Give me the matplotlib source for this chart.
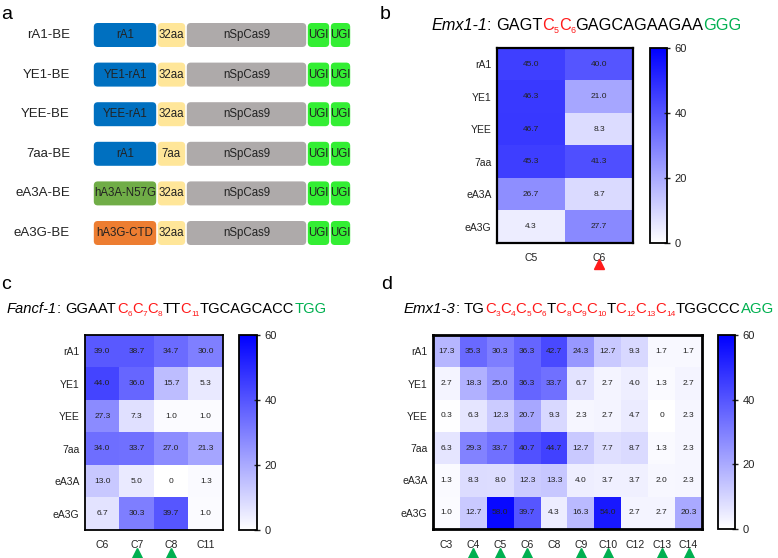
import re
import numpy as np
import matplotlib
matplotlib.use("Agg")
import matplotlib.pyplot as plt
from matplotlib.colors import LinearSegmentedColormap
from matplotlib.patches import FancyBboxPatch
from matplotlib.lines import Line2D
from matplotlib.font_manager import findfont, FontProperties, get_font
from matplotlib.ft2font import LOAD_NO_HINTING

plt.rcParams['font.family'] = ['Liberation Sans', 'DejaVu Sans']

# ---------------- data ----------------
constructs = ["rA1-BE", "YE1-BE", "YEE-BE", "7aa-BE", "eA3A-BE", "eA3G-BE"]
deaminase_labels = ["rA1", "YE1-rA1", "YEE-rA1", "rA1", "hA3A-N57G", "hA3G-CTD"]
deaminase_colors = ["#0070C0", "#0070C0", "#0070C0", "#0070C0", "#70AD47", "#ED7D31"]
linker_labels = ["32aa", "32aa", "32aa", "7aa", "32aa", "32aa"]

editors = ["rA1", "YE1", "YEE", "7aa", "eA3A", "eA3G"]

b_cols = ["C5", "C6"]
b_vals = [[45.0, 40.0], [46.3, 21.0], [46.7, 8.3], [45.3, 41.3], [26.7, 8.7], [4.3, 27.7]]
b_marks = ["C6"]

c_cols = ["C6", "C7", "C8", "C11"]
c_vals = [[39.0, 38.7, 34.7, 30.0],
          [44.0, 36.0, 15.7, 5.3],
          [27.3, 7.3, 1.0, 1.0],
          [34.0, 33.7, 27.0, 21.3],
          [13.0, 5.0, 0.0, 1.3],
          [6.7, 30.3, 39.7, 1.0]]
c_marks = ["C7", "C8"]

d_cols = ["C3", "C4", "C5", "C6", "C8", "C9", "C10", "C12", "C13", "C14"]
d_vals = [[17.3, 35.3, 30.3, 36.3, 42.7, 24.3, 12.7, 9.3, 1.7, 1.7],
          [2.7, 18.3, 25.0, 36.3, 33.7, 6.7, 2.7, 4.0, 1.3, 2.7],
          [0.3, 6.3, 12.3, 20.7, 9.3, 2.3, 2.7, 4.7, 0.0, 2.3],
          [6.3, 29.3, 33.7, 40.7, 44.7, 12.7, 7.7, 8.7, 1.3, 2.3],
          [1.3, 8.3, 8.0, 12.3, 13.3, 4.0, 3.7, 3.7, 2.0, 2.3],
          [1.0, 12.7, 58.0, 39.7, 4.3, 16.3, 54.0, 2.7, 2.7, 20.3]]
d_marks = ["C4", "C5", "C6", "C9", "C10", "C13", "C14"]

b_title = ("Emx1-1", "GAGT[5][6]GAGCAGAAGAA{GGG}")
c_title = ("Fancf-1", "GGAAT[6][7][8]TT[11]TGCAGCACC{TGG}")
d_title = ("Emx1-3", "TG[3][4][5][6]T[8][9][10]T[12][13][14]TGGCCC{AGG}")

# ---------------- layout ----------------
W, H = 778, 558
fig = plt.figure(figsize=(W / 100, H / 100), dpi=100)


def px_axes(x0, y0, x1, y1):
    return fig.add_axes([x0 / W, 1 - y1 / H, (x1 - x0) / W, (y1 - y0) / H])


cmap = LinearSegmentedColormap.from_list("wb", ["#FFFFFF", "#0000FF"])
RED = "#FF1A1A"
GREEN = "#00B050"
TXT = "#222222"

# panel labels
for lab, x, y in [("a", 1, 19), ("b", 380, 19), ("c", 1, 289), ("d", 381, 289)]:
    fig.text(x / W, 1 - y / H, lab, fontsize=14, va="baseline", ha="left")

# ---------------- panel a ----------------
ax_a = px_axes(0, 15, 390, 253)
ax_a.set_xlim(0, 390)
ax_a.set_ylim(253, 15)
ax_a.axis("off")
segs = [(93, 157), (157, 186), (186, 307), (307, 330), (330, 351)]
row_y0, row_dy, box_h = 35, 39.6, 24
for i, name in enumerate(constructs):
    yc = row_y0 + i * row_dy
    ax_a.text(70, yc, name, ha="right", va="center", fontsize=9.5, color=TXT)
    labels = [deaminase_labels[i], linker_labels[i], "nSpCas9", "UGI", "UGI"]
    colors = [deaminase_colors[i], "#FFE699", "#AEAAAA", "#33EE33", "#33EE33"]
    for (x0, x1), lab, col in zip(segs, labels, colors):
        p = FancyBboxPatch((x0 + 0.8, yc - box_h / 2), x1 - x0 - 1.6, box_h,
                           boxstyle="round,pad=0,rounding_size=4",
                           fc=col, ec="none")
        ax_a.add_patch(p)
        ax_a.text((x0 + x1) / 2, yc, lab, ha="center", va="center",
                  fontsize=8.3, color=TXT)


# ---------------- heatmaps ----------------
def heatmap(box, cbox, cols, vals, marks, mark_color, lab_y, tri_y, lw=1.6):
    x0, y0, x1, y1 = box
    ax = px_axes(*box)
    arr = np.array(vals)
    im = ax.imshow(arr, cmap=cmap, vmin=0, vmax=60, aspect="auto",
                   interpolation="nearest")
    for r in range(arr.shape[0]):
        for c in range(arr.shape[1]):
            v = arr[r, c]
            s = "0" if v == 0 else f"{v:.1f}"
            ax.text(c, r, s, ha="center", va="center", fontsize=6, color=TXT)
    ax.set_yticks(range(len(editors)))
    ax.set_yticklabels(editors, fontsize=7.5, color=TXT)
    ax.set_xticks(range(len(cols)))
    ax.set_xticklabels(cols, fontsize=7.5, color=TXT)
    ax.tick_params(length=0, pad=4)
    ax.tick_params(axis="x", pad=(lab_y - y1) - 4)
    for sp in ax.spines.values():
        sp.set_linewidth(lw)
    ncol = len(cols)
    for m in marks:
        j = cols.index(m)
        xf = x0 + (j + 0.5) / ncol * (x1 - x0)
        fig.lines.append(Line2D(
            [xf / W], [1 - tri_y / H], transform=fig.transFigure,
            marker="^", markersize=7, color=mark_color, linestyle="none"))
    cax = px_axes(*cbox)
    cb = fig.colorbar(im, cax=cax, ticks=[0, 20, 40, 60])
    cb.outline.set_linewidth(1.3)
    cax.tick_params(direction="inout", length=5, width=1, labelsize=8,
                    pad=3, colors=TXT)
    return ax


heatmap((497, 48, 633, 243), (650, 48, 667, 243), b_cols, b_vals, b_marks, RED, 254, 264)
heatmap((85, 335, 223, 530), (239, 335, 257, 530), c_cols, c_vals, c_marks, GREEN, 541, 553, lw=1.3)
heatmap((433, 335, 702, 529), (718, 335, 735, 529), d_cols, d_vals, d_marks, GREEN, 541, 553, lw=2)


# ---------------- rich titles ----------------
def advance(s, fs, style):
    font = get_font(findfont(FontProperties(family="Liberation Sans", style=style)))
    font.set_size(fs, 100)
    tot = 0.0
    for ch in s:
        g = font.load_char(ord(ch), flags=LOAD_NO_HINTING)
        tot += g.linearHoriAdvance / 65536.0
    return tot


def rich_title(x, y, title, fs, sub_ratio=0.55):
    name, seq = title
    pieces = [(name, "black", "italic", False), (": ", "black", "normal", False)]
    for m in re.finditer(r"\[(\d+)\]|\{(\w+)\}|([A-Z]+)", seq):
        if m.group(1):
            pieces.append(("C", RED, "normal", False))
            pieces.append((m.group(1), RED, "normal", True))
        elif m.group(2):
            pieces.append((m.group(2), GREEN, "normal", False))
        else:
            pieces.append((m.group(3), "black", "normal", False))
    cur = x
    for txt, col, st, sub in pieces:
        size = fs * sub_ratio if sub else fs
        yy = y + (3.2 if sub else 0)
        fig.text(cur / W, 1 - yy / H, txt, color=col, fontsize=size,
                 style=st, va="baseline", ha="left")
        cur += advance(txt, size, st)


rich_title(431, 30, b_title, 11.7)
rich_title(7, 313, c_title, 10.6)
rich_title(404, 313, d_title, 10.8)

fig.savefig("out.png", dpi=100)
